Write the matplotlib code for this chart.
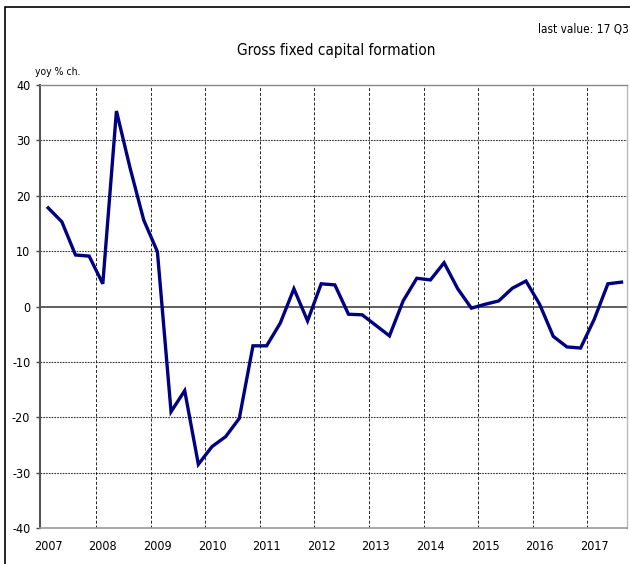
import numpy as np
import matplotlib
matplotlib.use("Agg")
import matplotlib.pyplot as plt
from matplotlib.patches import Rectangle

plt.rcParams["font.family"] = ["DejaVu Sans"]
plt.rcParams["font.stretch"] = "condensed"

# ── Dados: FBCF, var. % a/a, trimestral 2007Q1 .. 2017Q3 ──────────
years = [2007, 2008, 2009, 2010, 2011, 2012, 2013, 2014, 2015, 2016, 2017]
gfcf = [
    17.8, 15.3, 9.3, 9.1,        # 2007
    4.1, 35.3, 25.0, 15.6,       # 2008
    9.9, -19.0, -15.2, -28.5,    # 2009
    -25.3, -23.5, -20.2, -7.1,   # 2010
    -7.1, -3.0, 3.2, -2.6,       # 2011
    4.1, 3.9, -1.4, -1.5,        # 2012
    -3.4, -5.3, 1.0, 5.1,        # 2013
    4.8, 7.9, 3.2, -0.3,         # 2014
    0.4, 1.0, 3.3, 4.6,          # 2015
    0.4, -5.4, -7.3, -7.5,       # 2016
    -2.3, 4.1, 4.4,              # 2017
]
y_ticks = [40, 30, 20, 10, 0, -10, -20, -30, -40]

x = np.arange(len(gfcf))
x_year = [4 * i for i in range(len(years))]
x_sep = [4 * i - 0.5 for i in range(1, len(years))]

fig = plt.figure(figsize=(6.3, 5.64), dpi=100)
ax = fig.add_axes([40 / 630, 36 / 564, 587 / 630, 443 / 564])

# moldura externa
fig.patches.append(Rectangle((5 / 630, -0.05), 1.2, (564 - 7) / 564 + 0.05,
                             transform=fig.transFigure, fill=False,
                             edgecolor="black", linewidth=1.2))

for v in y_ticks:
    if v == 0:
        ax.axhline(0, color="#444444", linewidth=1.2, zorder=1)
    elif v not in (40, -40):
        ax.axhline(v, color="#333333", linewidth=0.8, linestyle=(0, (1.5, 1.0)), zorder=1)
for xs in x_sep:
    ax.axvline(xs, color="#222222", linewidth=0.7, linestyle=(0, (3, 2)), zorder=1)

ax.plot(x, gfcf, color="#000080", linewidth=2.4, zorder=3, solid_joinstyle="miter")

ax.set_xlim(-0.6, 42.4)
ax.set_ylim(-40, 40)
ax.set_yticks(y_ticks)
ax.set_yticklabels([str(v) for v in y_ticks], fontsize=9)
ax.set_xticks(x_year)
ax.set_xticklabels([str(y) for y in years], fontsize=9)
ax.tick_params(axis="x", length=0, pad=9)
ax.tick_params(axis="y", length=3, width=1, pad=4, color="#444444")

ax.spines["left"].set_color("#555555")
ax.spines["left"].set_linewidth(1.5)
ax.spines["bottom"].set_color("#999999")
ax.spines["bottom"].set_linewidth(1.2)
ax.spines["top"].set_color("#888888")
ax.spines["top"].set_linestyle((0, (1.5, 1.0)))
ax.spines["top"].set_linewidth(1.0)
ax.spines["right"].set_color("#bbbbbb")
ax.spines["right"].set_linewidth(1.0)

fig.text(336 / 630, 1 - 51 / 564, "Gross fixed capital formation",
         ha="center", va="center", fontsize=11)
fig.text(629 / 630, 1 - 29 / 564, "last value: 17 Q3",
         ha="right", va="center", fontsize=8.5)
fig.text(35 / 630, 1 - 72 / 564, "yoy % ch.", ha="left", va="center", fontsize=7.5)

fig.savefig("out.png", dpi=100)
